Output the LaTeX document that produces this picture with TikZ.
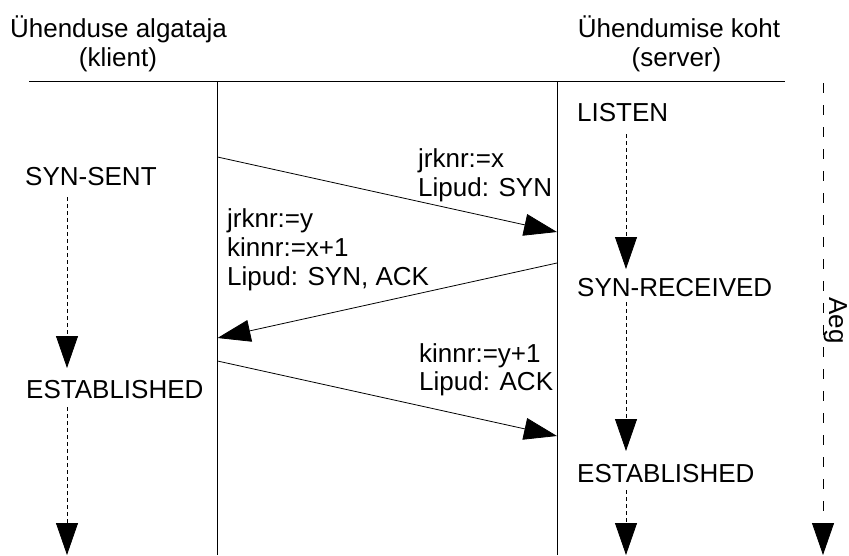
\documentclass[tikz,border=0pt]{standalone}
\usepackage{fontspec}
\setmainfont{Liberation Sans}
\usetikzlibrary{arrows.meta}

\tikzset{
  lbl/.style={inner sep=0pt, anchor=base west, font=\fontsize{26}{29}\selectfont},
  ttl/.style={inner sep=0pt, anchor=base, font=\fontsize{26}{29}\selectfont},
  rule/.style={line width=0.8pt, black},
  msg/.style={line width=0.8pt, -{Triangle[length=33pt,width=22pt]}},
  life/.style={line width=0.8pt, dash pattern=on 4pt off 3pt, -{Triangle[length=32pt,width=22pt]}},
  timeaxis/.style={line width=0.8pt, dash pattern=on 10pt off 12pt, -{Triangle[length=32pt,width=22pt]}}
}

\begin{document}
\begin{tikzpicture}[x=1pt, y=-1pt]
  \useasboundingbox (0,0) rectangle (849,555);

  % column headings
  \node[ttl] (c1) at (118.5,37) {Ühenduse algataja};
  \node[ttl] (c2) at (118,66) {(klient)};
  \node[ttl] (s1) at (679,37) {Ühendumise koht};
  \node[ttl] (s2) at (676.5,66) {(server)};

  % frame: header rule and the two host lines
  \coordinate (hl) at (29,81);
  \coordinate (hr) at (785,81);
  \coordinate (ct) at (217.5,81);
  \coordinate (cb) at (217.5,555);
  \coordinate (st) at (557,81);
  \coordinate (sb) at (557,555);
  \draw[rule] (hl) -- (hr);
  \draw[rule] (ct) -- (cb);
  \draw[rule] (st) -- (sb);

  % connection states
  \node[lbl] (listen) at (577,121) {LISTEN};
  \node[lbl] (synsent) at (25,185) {SYN-SENT};
  \node[lbl] (synrcvd) at (577,296) {SYN-RECEIVED};
  \node[lbl] (estc) at (26,398) {ESTABLISHED};
  \node[lbl] (ests) at (577,482) {ESTABLISHED};

  % segment contents
  \node[lbl] (m1a) at (418,167) {jrknr:=x};
  \node[lbl] (m1b) at (418,196) {Lipud: SYN};
  \node[lbl] (m2a) at (227,227) {jrknr:=y};
  \node[lbl] (m2b) at (227,256) {kinnr:=x+1};
  \node[lbl] (m2c) at (227,285) {Lipud: SYN, ACK};
  \node[lbl] (m3a) at (419,362) {kinnr:=y+1};
  \node[lbl] (m3b) at (419,390) {Lipud: ACK};

  % segments between the hosts
  \coordinate (a1) at (217.5,157);
  \coordinate (b1) at (557,232);
  \coordinate (b2) at (557,263);
  \coordinate (a2) at (217.5,338);
  \coordinate (a3) at (217.5,361);
  \coordinate (b3) at (557,436);
  \draw[msg] (a1) -- (b1);
  \draw[msg] (b2) -- (a2);
  \draw[msg] (a3) -- (b3);

  % client state timeline
  \coordinate (cl1) at (67,197);
  \coordinate (cl2) at (67,368);
  \coordinate (cl3) at (67,407);
  \coordinate (cl4) at (67,555);
  \draw[life] (cl1) -- (cl2);
  \draw[life] (cl3) -- (cl4);

  % server state timeline
  \coordinate (sl1) at (626,134);
  \coordinate (sl2) at (626,269);
  \coordinate (sl3) at (626,302);
  \coordinate (sl4) at (626,451);
  \coordinate (sl5) at (626,490);
  \coordinate (sl6) at (626,555);
  \draw[life] (sl1) -- (sl2);
  \draw[life] (sl3) -- (sl4);
  \draw[life] (sl5) -- (sl6);

  % time axis
  \coordinate (t1) at (823,83);
  \coordinate (t2) at (823,555);
  \draw[timeaxis] (t1) -- (t2);
  \node[lbl, rotate=-90] (aeg) at (829,297) {Aeg};
\end{tikzpicture}
\end{document}
